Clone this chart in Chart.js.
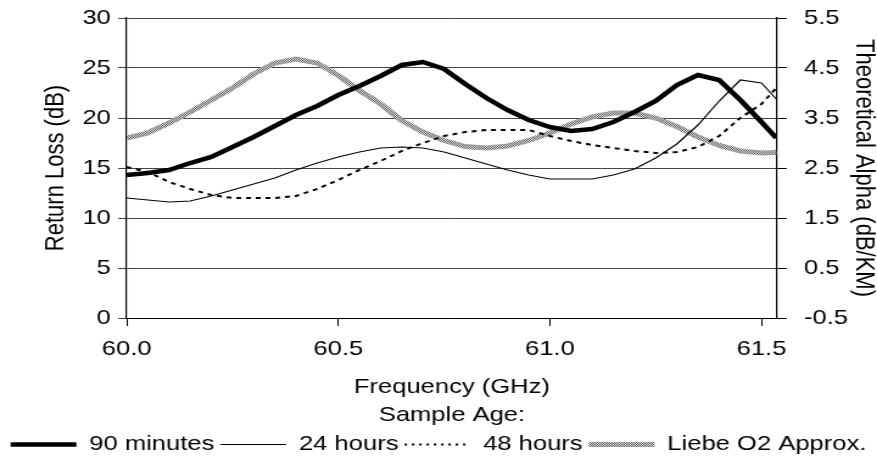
<!DOCTYPE html>
<html lang="en">
<head>
    <meta charset="UTF-8">
    <title>Return Loss vs Frequency</title>
    <script src="https://cdn.jsdelivr.net/npm/chart.js"></script>
    <style>
        body {
            margin: 0;
            background: #fff;
        }
        #c {
            display: block;
            width: 877px;
            height: 466px;
        }
    </style>
</head>
<body>
    <!-- drawn at 720 wide and stretched to 877, like the original export -->
    <canvas id="c" width="720" height="466" style="width:877px;height:466px"></canvas>

    <script>
        // Frequency (GHz)
        const freqs = [60.00, 60.05, 60.10, 60.15, 60.20, 60.25, 60.30, 60.35, 60.40, 60.45,
                       60.50, 60.55, 60.60, 60.65, 60.70, 60.75, 60.80, 60.85, 60.90, 60.95,
                       61.00, 61.05, 61.10, 61.15, 61.20, 61.25, 61.30, 61.35, 61.40, 61.45,
                       61.50, 61.535];

        // Return loss (dB), left axis
        const min90 = [14.3, 14.5, 14.8, 15.5, 16.1, 17.1, 18.1, 19.2, 20.3, 21.2,
                       22.3, 23.2, 24.2, 25.3, 25.6, 24.9, 23.4, 22.0, 20.8, 19.8,
                       19.1, 18.7, 18.9, 19.6, 20.6, 21.7, 23.3, 24.3, 23.8, 21.8,
                       19.6, 18.0];
        const hrs24 = [12.0, 11.8, 11.6, 11.7, 12.2, 12.8, 13.4, 14.0, 14.8, 15.5,
                       16.1, 16.6, 17.0, 17.1, 17.0, 16.6, 16.0, 15.4, 14.8, 14.3,
                       13.9, 13.9, 13.9, 14.3, 14.9, 16.0, 17.4, 19.3, 21.7, 23.8,
                       23.5, 21.9];
        const hrs48 = [15.1, 14.6, 13.6, 12.9, 12.3, 12.0, 12.0, 12.0, 12.2, 12.9,
                       13.8, 14.8, 15.7, 16.7, 17.5, 18.2, 18.6, 18.8, 18.8, 18.8,
                       18.2, 17.7, 17.3, 17.0, 16.7, 16.5, 16.6, 17.1, 18.2, 20.0,
                       21.4, 23.0];

        // Theoretical alpha (dB/KM), right axis
        const liebe = [3.10, 3.20, 3.40, 3.62, 3.86, 4.10, 4.38, 4.60, 4.68, 4.60,
                       4.35, 4.05, 3.78, 3.45, 3.22, 3.05, 2.93, 2.90, 2.94, 3.05,
                       3.20, 3.38, 3.52, 3.60, 3.60, 3.50, 3.33, 3.12, 2.95, 2.84,
                       2.80, 2.81];

        const xTicks = [60.0, 60.5, 61.0, 61.5];
        const leftTicks = [0, 5, 10, 15, 20, 25, 30];
        const rightTicks = [-0.5, 0.5, 1.5, 2.5, 3.5, 4.5, 5.5];

        const FONT = 'Liberation Sans, Arial, sans-serif';

        const canvas = document.getElementById('c');
        const ctx = canvas.getContext('2d');

        // dithered grey used for the Liebe curve
        function greyPattern() {
            const p = document.createElement('canvas');
            p.width = 2;
            p.height = 2;
            const g = p.getContext('2d');
            g.fillStyle = '#e2e2e2';
            g.fillRect(0, 0, 2, 2);
            g.fillStyle = '#5c5c5c';
            g.fillRect(0, 0, 1, 1);
            g.fillRect(1, 1, 1, 1);
            return ctx.createPattern(p, 'repeat');
        }

        const pts = arr => arr.map((v, i) => ({ x: freqs[i], y: v }));

        // legend keeps the dash of each line (point style drops it)
        function legendLabels(chart) {
            const items = Chart.defaults.plugins.legend.labels.generateLabels(chart);
            items.forEach(it => {
                const ds = chart.data.datasets[it.datasetIndex];
                it.lineDash = ds.legendDash || [];
                it.lineWidth = ds.borderWidth;
            });
            return items;
        }

        // y axes: fixed width, and don't let label padding push the plot down
        function fixY(width) {
            return s => {
                s.width = width;
                s.paddingTop = 12;
                s.paddingBottom = 12;
            };
        }

        new Chart(ctx, {
            type: 'line',
            data: {
                datasets: [
                    {
                        label: '90 minutes',
                        data: pts(min90),
                        borderColor: '#000',
                        borderWidth: 4.5,
                        yAxisID: 'y'
                    },
                    {
                        label: '24 hours',
                        data: pts(hrs24),
                        borderColor: '#000',
                        borderWidth: 1.2,
                        yAxisID: 'y'
                    },
                    {
                        label: '48 hours',
                        data: pts(hrs48),
                        borderColor: '#000',
                        borderWidth: 2,
                        borderDash: [4, 4],
                        legendDash: [2, 4],
                        yAxisID: 'y'
                    },
                    {
                        label: 'Liebe O2 Approx.',
                        data: pts(liebe),
                        borderColor: greyPattern(),
                        borderWidth: 5,
                        yAxisID: 'y1'
                    }
                ]
            },
            options: {
                responsive: false,
                devicePixelRatio: 1,
                animation: false,
                events: [],
                elements: {
                    point: { radius: 0 },
                    line: { tension: 0, fill: false }
                },
                layout: {
                    padding: { top: 18, left: 0, right: 0, bottom: 1 }
                },
                scales: {
                    x: {
                        type: 'linear',
                        min: 60,
                        max: 61.537,
                        afterBuildTicks: s => { s.ticks = xTicks.map(v => ({ value: v })); },
                        afterFit: s => { s.height = 111; },
                        grid: {
                            drawOnChartArea: false,
                            drawTicks: true,
                            tickLength: 8,
                            color: '#000'
                        },
                        border: { display: true, color: '#000', width: 1 },
                        ticks: {
                            padding: 11,
                            color: '#000',
                            font: { family: FONT, size: 21 },
                            callback: v => Number(v).toFixed(1)
                        },
                        title: {
                            display: true,
                            text: ['Frequency (GHz)', 'Sample Age:'],
                            color: '#000',
                            font: { family: FONT, size: 21, lineHeight: 1.33 },
                            padding: { top: 0, bottom: 0 }
                        }
                    },
                    y: {
                        position: 'left',
                        min: 0,
                        max: 30,
                        afterBuildTicks: s => { s.ticks = leftTicks.map(v => ({ value: v })); },
                        afterFit: fixY(104),
                        grid: {
                            color: '#444',
                            lineWidth: 1,
                            tickLength: 7
                        },
                        border: { display: true, color: '#000', width: 1.2 },
                        ticks: {
                            padding: 6,
                            color: '#000',
                            font: { family: FONT, size: 21 }
                        },
                        title: {
                            display: true,
                            text: 'Return Loss (dB)',
                            color: '#000',
                            font: { family: FONT, size: 22 },
                            padding: { top: 33, bottom: 0 }
                        }
                    },
                    y1: {
                        position: 'right',
                        min: -0.5,
                        max: 5.5,
                        afterBuildTicks: s => { s.ticks = rightTicks.map(v => ({ value: v })); },
                        afterFit: fixY(82),
                        grid: {
                            drawOnChartArea: false,
                            tickLength: 8,
                            color: '#000'
                        },
                        border: { display: true, color: '#000', width: 1.2 },
                        ticks: {
                            padding: 14,
                            color: '#000',
                            font: { family: FONT, size: 21 },
                            callback: v => Number(v).toFixed(1)
                        },
                        title: {
                            display: true,
                            text: 'Theoretical Alpha (dB/KM)',
                            color: '#000',
                            font: { family: FONT, size: 22, lineHeight: 1 },
                            padding: { top: 0, bottom: 0 }
                        }
                    }
                },
                plugins: {
                    tooltip: { enabled: false },
                    legend: {
                        position: 'bottom',
                        labels: {
                            usePointStyle: true,
                            pointStyle: 'line',
                            pointStyleWidth: 54,
                            padding: 5,
                            color: '#000',
                            font: { family: FONT, size: 21 },
                            generateLabels: legendLabels
                        }
                    }
                }
            }
        });
    </script>
</body>
</html>
